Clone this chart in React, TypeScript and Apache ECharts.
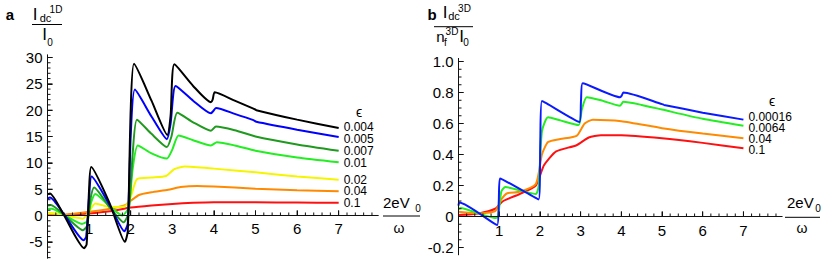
import React, { useEffect, useRef } from "react";
import * as echarts from "echarts";

// ---------- Panel a (1D) ----------
const aEps = ["0.004", "0.005", "0.007", "0.01", "0.02", "0.04", "0.1"];
const aColors = ["#000000", "#0000ff", "#1f9a1f", "#22ee22", "#f5f500", "#ff8a00", "#ff1010"];
const aLabelNudge = [-1.5, 2, 0.5, 1, 0, 0, 0];

const aX0 = [0, 0.06, 0.4, 0.88, 0.94, 1.0, 1.05, 1.5, 1.86, 1.93, 2.0, 2.08, 2.5, 2.88, 2.96, 3.05, 3.5, 3.93, 3.97, 4.02, 4.5, 4.95, 5.02, 6, 7];
const aY0 = [4.0, 4.2, 0, -6.2, -5.5, 5, 9.2, 2.2, -5.0, -3, 20, 28.8, 21.8, 15.3, 19, 28.7, 24.6, 21.5, 22, 23.4, 21.8, 20.3, 20, 18.2, 16.6];
const aX1 = [0, 0.06, 0.4, 0.87, 0.93, 1.0, 1.06, 1.5, 1.85, 1.93, 2.0, 2.1, 2.5, 2.87, 2.96, 3.08, 3.5, 3.93, 3.98, 4.05, 4.5, 4.95, 5.02, 6, 7];
const aY1 = [3.2, 3.4, 0.2, -4.7, -4.0, 3.5, 7.4, 1.9, -3.0, -1.5, 15, 23.9, 18.8, 14.5, 17.5, 24.6, 21.8, 19.4, 19.8, 20.4, 19.3, 18.1, 17.8, 16.3, 14.9];
const aX2 = [0, 0.08, 0.4, 0.85, 0.95, 1.03, 1.12, 1.5, 1.83, 1.95, 2.05, 2.15, 2.5, 2.87, 2.98, 3.12, 3.5, 3.93, 4.05, 4.5, 5, 6, 7];
const aY2 = [1.9, 2.0, 0.1, -2.8, -2.0, 3.0, 5.3, 1.5, -1.3, 0.5, 12, 18.2, 15.5, 13.0, 15, 19.5, 17.7, 16.1, 16.9, 16.2, 15.0, 13.5, 12.3];
const aX3 = [0, 0.1, 0.4, 0.83, 0.95, 1.05, 1.15, 1.5, 1.8, 1.95, 2.05, 2.17, 2.5, 2.87, 3.0, 3.15, 3.5, 3.93, 4.07, 4.5, 5, 6, 7];
const aY3 = [1.3, 1.3, 0.1, -1.6, -1.1, 2.5, 4.1, 1.7, 0, 1.5, 9, 13.3, 11.8, 10.8, 12.5, 15.2, 14.3, 13.3, 13.9, 13.3, 12.3, 11.0, 10.1];
const aX4 = [0, 0.2, 0.5, 0.85, 1.0, 1.15, 1.5, 1.85, 2.0, 2.15, 2.5, 2.85, 3.05, 3.3, 4, 5, 6, 7];
const aY4 = [0.5, 0.4, -0.1, -0.6, 0.8, 2.3, 1.6, 1.7, 3.5, 6.9, 7.2, 7.5, 8.8, 9.3, 8.9, 8.2, 7.4, 6.8];
const aX5 = [0, 0.5, 1.0, 1.5, 1.85, 2.0, 2.2, 2.5, 2.9, 3.2, 3.6, 4, 5, 6, 7];
const aY5 = [0.1, 0.2, 0.7, 1.3, 1.9, 2.8, 3.9, 4.4, 4.9, 5.4, 5.6, 5.5, 5.1, 4.8, 4.6];
const aX6 = [0, 0.5, 1.0, 1.5, 2.0, 2.5, 3.0, 3.5, 4, 5, 6, 7];
const aY6 = [0.1, 0.2, 0.4, 0.8, 1.5, 1.9, 2.2, 2.4, 2.5, 2.5, 2.45, 2.4];

const aXs = [aX0, aX1, aX2, aX3, aX4, aX5, aX6];
const aYs = [aY0, aY1, aY2, aY3, aY4, aY5, aY6];

const aYTicks = [-5, 0, 5, 10, 15, 20, 25, 30];

// ---------- Panel b (3D) ----------
const bEps = ["0.00016", "0.0064", "0.04", "0.1"];
const bColors = ["#0a1aff", "#22ee22", "#ff8a00", "#ff1010"];
const bLabelNudge = [-3, 2, 1, 2];

const bX0 = [0, 0.02, 0.95, 0.99, 1.02, 1.97, 2.01, 2.05, 2.97, 3.01, 3.05, 3.97, 4.01, 4.05, 5, 5.05, 6, 7];
const bY0 = [0.07, 0.09, -0.055, 0.1, 0.245, 0.11, 0.5, 0.745, 0.61, 0.75, 0.86, 0.77, 0.78, 0.8, 0.725, 0.72, 0.67, 0.625];
const bX1 = [0, 0.05, 0.5, 0.9, 0.97, 1.05, 1.15, 1.5, 1.9, 1.97, 2.05, 2.2, 2.5, 2.95, 3.03, 3.15, 3.5, 3.97, 4.05, 4.5, 5, 6, 7];
const bY1 = [0.05, 0.055, 0.02, -0.01, 0.0, 0.16, 0.19, 0.17, 0.145, 0.2, 0.55, 0.64, 0.62, 0.59, 0.69, 0.77, 0.75, 0.715, 0.74, 0.72, 0.69, 0.63, 0.585];
const bX2 = [0, 0.5, 0.9, 1.05, 1.2, 1.5, 1.9, 2.05, 2.2, 2.5, 2.9, 3.1, 3.3, 4, 5, 6, 7];
const bY2 = [0.03, 0.02, 0.035, 0.11, 0.15, 0.16, 0.21, 0.4, 0.48, 0.5, 0.52, 0.6, 0.625, 0.615, 0.57, 0.535, 0.505];
const bX3 = [0, 0.5, 0.9, 1.1, 1.5, 1.9, 2.1, 2.4, 2.9, 3.2, 3.5, 4, 5, 6, 7];
const bY3 = [0.01, 0.02, 0.05, 0.1, 0.145, 0.2, 0.33, 0.42, 0.46, 0.51, 0.525, 0.525, 0.505, 0.475, 0.44];

const bXs = [bX0, bX1, bX2, bX3];
const bYs = [bY0, bY1, bY2, bY3];

const bYTicks = [-0.2, 0, 0.2, 0.4, 0.6, 0.8, 1.0];

const xTicks = [1, 2, 3, 4, 5, 6, 7];

const FONT = "Liberation Sans, Arial, sans-serif";

// axis ranges
const aXMax = 7.95, aYMin = -8.1, aYMax = 30.5;
const bXMax = 7.95, bYMin = -0.247, bYMax = 1.02;

function range(a: number, b: number, step: number, skipEvery?: number) {
  const out: number[] = [];
  const n = Math.round((b - a) / step);
  for (let i = 0; i <= n; i++) {
    const v = +(a + i * step).toFixed(4);
    if (skipEvery && Math.abs(v / skipEvery - Math.round(v / skipEvery)) < 1e-6) continue;
    out.push(v);
  }
  return out;
}

const xMinor = range(0.2, 7.8, 0.2, 1);
const aYMinor = range(-8, 30, 1, 5);
const bYMinor = range(-0.2, 1.0, 0.05, 0.2);

function txt(x: number, y: number, text: string, size: number, extra: any = {}) {
  return {
    type: "text",
    x,
    y,
    style: {
      text,
      font: `${extra.weight || "normal"} ${size}px ${FONT}`,
      fill: "#000",
      textAlign: extra.align || "center",
      textVerticalAlign: "middle",
      align: extra.align || "center",
      verticalAlign: "middle",
    },
  };
}
function hline(x1: number, x2: number, y: number) {
  return { type: "line", shape: { x1, y1: y, x2, y2: y }, style: { stroke: "#000", lineWidth: 1 } };
}

// axis lines + inward ticks drawn as line series through the axis scales
function axisSeries(idx: number, grid: any, xMax: number, yMin: number, yMax: number, yMaj: number[], yMinr: number[]) {
  const pxX = xMax / grid.width;
  const pxY = (yMax - yMin) / grid.height;
  const common = {
    type: "line",
    xAxisIndex: idx,
    yAxisIndex: idx,
    showSymbol: false,
    symbol: "none",
    silent: true,
    connectNulls: false,
    clip: false,
    smooth: false,
    z: 30,
    lineStyle: { color: "#111111", width: 1, opacity: 1 },
    itemStyle: { color: "#111111" },
  };
  const ticks: any[] = [];
  yMaj.forEach((v) => ticks.push([0, v], [5 * pxX, v], ["-", "-"]));
  yMinr.forEach((v) => ticks.push([0, v], [3 * pxX, v], ["-", "-"]));
  xTicks.forEach((v) => ticks.push([v, 0], [v, 5 * pxY], ["-", "-"]));
  xMinor.forEach((v) => ticks.push([v, 0], [v, 3 * pxY], ["-", "-"]));
  return [
    { ...common, data: [[0, yMin], [0, yMax]] },
    { ...common, data: [[0, 0], [xMax, 0]] },
    { ...common, data: ticks },
  ];
}

export default function App() {
  const ref = useRef<HTMLDivElement>(null);
  useEffect(() => {
    const chart = echarts.init(ref.current!, null, { renderer: "svg" });

    const gridA = { left: 47.5, top: 54.86, width: 330.7, height: 203.3 };
    const gridB = { left: 458.5, top: 58.4, width: 323.6, height: 196.4 };
    const offA = -(gridA.height * (0 - aYMin)) / (aYMax - aYMin);
    const offB = -(gridB.height * (0 - bYMin)) / (bYMax - bYMin);

    const mkX = (grid: number, max: number, off: number) => ({
      type: "value",
      gridIndex: grid,
      min: 0,
      max,
      position: "bottom",
      offset: off,
      splitLine: { show: false },
      axisLine: { show: true, onZero: false, lineStyle: { color: "#111111", width: 1 } },
      axisTick: { show: true, inside: true, length: 5, customValues: xTicks, lineStyle: { color: "#111111", width: 1 } },
      axisLabel: { show: true, customValues: xTicks, color: "#000", fontSize: 15, fontFamily: FONT, margin: 6 },
    });
    const mkY = (grid: number, min: number, max: number, ticks: number[], fmt: (v: number) => string) => ({
      type: "value",
      gridIndex: grid,
      min,
      max,
      position: "left",
      splitLine: { show: false },
      axisLine: { show: true, onZero: false, lineStyle: { color: "#111111", width: 1 } },
      axisTick: { show: true, inside: true, length: 5, customValues: ticks, lineStyle: { color: "#111111", width: 1 } },
      axisLabel: { show: true, customValues: ticks, color: "#000", fontSize: 15, fontFamily: FONT, margin: 5, formatter: fmt },
    });

    const series: any[] = [];
    for (let i = aXs.length - 1; i >= 0; i--) {
      series.push({
        type: "line",
        name: aEps[i],
        xAxisIndex: 0,
        yAxisIndex: 0,
        data: aXs[i].map((x, j) => [x, aYs[i][j]]),
        showSymbol: false,
        symbol: "none",
        smooth: 0.2,
        lineStyle: { color: aColors[i], width: 2 },
        endLabel: {
          show: true, formatter: aEps[i], distance: 5, offset: [0, aLabelNudge[i]],
          fontSize: 12, lineHeight: 11, color: "#000", fontFamily: FONT,
        },
        z: 10 + (aXs.length - i),
      });
    }
    for (let i = bXs.length - 1; i >= 0; i--) {
      series.push({
        type: "line",
        name: bEps[i],
        xAxisIndex: 1,
        yAxisIndex: 1,
        data: bXs[i].map((x, j) => [x, bYs[i][j]]),
        showSymbol: false,
        symbol: "none",
        smooth: 0.2,
        lineStyle: { color: bColors[i], width: 2 },
        endLabel: {
          show: true, formatter: bEps[i], distance: 5, offset: [0, bLabelNudge[i]],
          fontSize: 12, lineHeight: 10, color: "#000", fontFamily: FONT,
        },
        z: 10 + (bXs.length - i),
      });
    }
    series.push(
      ...axisSeries(0, gridA, aXMax, aYMin, aYMax, aYTicks, aYMinor),
      ...axisSeries(1, gridB, bXMax, bYMin, bYMax, bYTicks, bYMinor),
    );

    const option: any = {
      animation: false,
      grid: [
        { ...gridA, outerBoundsMode: "none", containLabel: false },
        { ...gridB, outerBoundsMode: "none", containLabel: false },
      ],
      xAxis: [mkX(0, aXMax, offA), mkX(1, bXMax, offB)],
      yAxis: [
        mkY(0, aYMin, aYMax, aYTicks, (v) => String(v)),
        mkY(1, bYMin, bYMax, bYTicks, (v) => (Math.abs(v) < 1e-9 ? "0" : v.toFixed(1))),
      ],
      series,
      graphic: [
        txt(10, 14, "a", 15, { weight: "bold" }),
        txt(35, 14.5, "I", 17),
        txt(45.5, 18, "dc", 11),
        txt(56, 9, "1D", 10),
        hline(32, 62, 24.5),
        txt(44.7, 34.5, "I", 17),
        txt(50, 42, "0", 10),
        txt(359, 112, "ϵ", 14),
        txt(383, 202, "2eV", 15, { align: "left" }),
        txt(418, 208, "0", 10),
        hline(383, 420, 216),
        txt(399, 228, "ω", 14),
        txt(432, 14, "b", 15, { weight: "bold" }),
        txt(445, 12.5, "I", 17),
        txt(454, 16, "dc", 11),
        txt(464.5, 8.5, "3D", 10),
        hline(434, 473, 26.7),
        txt(440.5, 36.5, "n", 15),
        txt(445.5, 42, "f", 10),
        txt(452, 31.5, "3D", 10),
        txt(461.5, 36.5, "I", 17),
        txt(466, 42, "0", 10),
        txt(772, 101, "ϵ", 14),
        txt(787, 202, "2eV", 15, { align: "left" }),
        txt(818, 208, "0", 10),
        hline(785, 820, 217.3),
        txt(802, 228, "ω", 14),
      ],
    };
    chart.setOption(option);
    return () => chart.dispose();
  }, []);
  return <div ref={ref} style={{ position: "fixed", left: 0, top: 0, width: 831, height: 263, background: "#fff" }} />;
}
